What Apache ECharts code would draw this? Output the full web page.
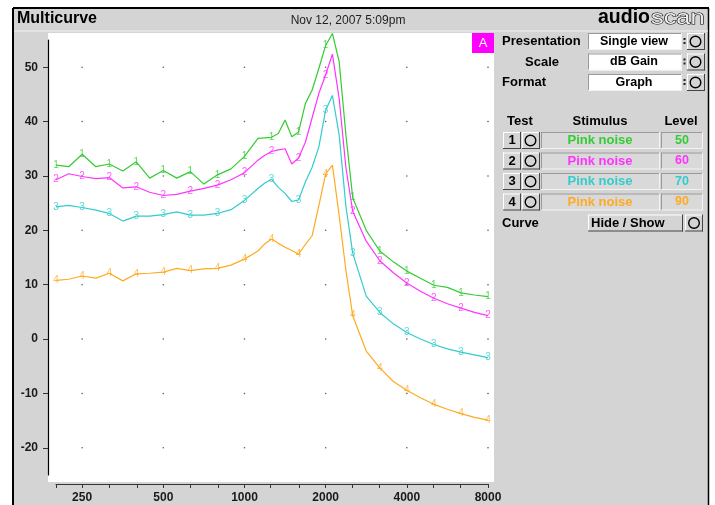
<!DOCTYPE html>
<html><head><meta charset="utf-8">
<script src="https://cdn.jsdelivr.net/npm/echarts@6/dist/echarts.min.js"></script>
<style>html,body{margin:0;padding:0;background:#fff}#c{width:715px;height:505px}</style>
</head><body><div id="c"></div>
<script>
// ---- data (frequency in Hz, values in dB gain) ----
const freqs = [200, 223, 250, 281, 315, 354, 397, 445, 500, 561, 630, 707, 794, 891, 1000,
  1122, 1189, 1260, 1335, 1414, 1498, 1587, 1682, 1782, 1888, 2000, 2119, 2245, 2378, 2520,
  2828, 3175, 3564, 4000, 4490, 5040, 5657, 6350, 7127, 8000];
const test1 = [32.0, 31.7, 34.0, 31.7, 32.2, 30.9, 32.6, 29.6, 31.0, 29.6, 30.8, 28.5, 30.2, 31.3, 33.6,
  36.9, 37.0, 37.1, 37.8, 40.3, 37.2, 38.1, 43.3, 45.8, 49.8, 54.0, 56.2, 51.0, 37.5, 26.0,
  20.0, 16.2, 14.2, 12.5, 11.2, 9.9, 9.5, 8.5, 8.1, 7.8];
const test2 = [29.3, 30.4, 29.9, 29.5, 29.7, 27.8, 28.0, 27.0, 26.4, 26.6, 27.2, 27.7, 28.3, 29.3, 30.6,
  32.9, 33.8, 34.5, 34.8, 35.0, 32.2, 33.3, 36.2, 40.7, 45.2, 48.6, 52.4, 44.2, 31.5, 23.5,
  18.0, 14.4, 12.2, 10.3, 8.8, 7.5, 6.5, 5.7, 4.9, 4.3];
const test3 = [24.3, 24.6, 24.2, 23.7, 23.1, 21.7, 22.6, 22.6, 22.9, 23.4, 22.8, 22.8, 23.1, 23.8, 25.5,
  27.7, 28.7, 29.4, 27.9, 26.8, 25.3, 25.6, 28.9, 31.6, 35.4, 42.1, 44.8, 37.5, 24.4, 15.8,
  7.9, 4.9, 2.8, 1.2, 0.0, -1.0, -1.8, -2.4, -2.9, -3.4];
const test4 = [10.8, 11.0, 11.6, 11.2, 12.1, 10.7, 12.0, 12.1, 12.3, 13.0, 12.6, 12.9, 13.0, 13.6, 14.7,
  16.2, 17.5, 18.4, 17.6, 16.9, 16.3, 15.6, 17.4, 19.0, 24.6, 30.4, 32.0, 22.7, 12.6, 4.3,
  -2.2, -5.3, -7.8, -9.4, -10.8, -12.0, -12.9, -13.7, -14.4, -14.9];
const markerFreqs = [200, 250, 315, 397, 500, 630, 794, 1000, 1260, 1587, 2000, 2520, 3175, 4000, 5040, 6350, 8000];
const tickFreqs = [200, 250, 315, 400, 500, 630, 800, 1000, 1250, 1600, 2000, 2500, 3150, 4000, 5000, 6300, 8000];
const labelFreqs = [250, 500, 1000, 2000, 4000, 8000];
const yTicks = [-20, -10, 0, 10, 20, 30, 40, 50];
const testIds = ['1', '2', '3', '4'];
const stimuli = ['Pink noise', 'Pink noise', 'Pink noise', 'Pink noise'];
const levels = ['50', '60', '70', '90'];
const colors = ['#33cc33', '#ff33ff', '#33cccc', '#ffaa22'];
const allTests = [test1, test2, test3, test4];

const oct = f => Math.log2(f / 250);
const FONT = '"Liberation Sans", Arial, sans-serif';

const series = [];
// grid dots at major intersections
const dots = [];
labelFreqs.forEach(f => yTicks.forEach(v => dots.push([oct(f), v])));
series.push({ type: 'scatter', data: dots, symbolSize: 1.6, itemStyle: { color: '#333' }, silent: true, z: 1, clip: false });

allTests.forEach((vals, k) => {
  series.push({
    type: 'line', name: testIds[k], data: freqs.map((f, i) => [oct(f), vals[i]]),
    showSymbol: false, clip: false, smooth: false,
    lineStyle: { color: colors[k], width: 1.2 }, z: 3 + k, silent: true
  });
  series.push({
    type: 'scatter', data: markerFreqs.map(f => [oct(f), vals[freqs.indexOf(f)]]),
    symbolSize: 2, itemStyle: { color: 'transparent' }, clip: false, silent: true, z: 8,
    label: { show: true, position: 'inside', formatter: testIds[k], color: colors[k], fontSize: 10, fontFamily: FONT }
  });
});

// ---- panel graphics ----
const G = [];
function rect(x, y, w, h, fill, stroke, z) { G.push({ type: 'rect', z: z === undefined ? 10 : z, silent: true, shape: { x, y, width: w, height: h }, style: { fill, stroke: stroke || null, lineWidth: stroke ? 1 : 0 } }); }
function line(x1, y1, x2, y2, stroke, lw, z) { G.push({ type: 'line', z: z === undefined ? 11 : z, silent: true, shape: { x1, y1, x2, y2 }, style: { stroke, lineWidth: lw || 1 } }); }
function txt(x, y, s, opt) {
  opt = opt || {};
  G.push({ type: 'text', z: 12, silent: true, x, y, scaleX: opt.scaleX || 1,
    style: { text: s, fill: opt.fill || '#000', stroke: opt.stroke || null, lineWidth: opt.lw || 0,
      font: (opt.weight || 'bold') + ' ' + (opt.size || 13) + 'px ' + FONT,
      textAlign: opt.align || 'left', align: opt.align || 'left', textVerticalAlign: 'middle', verticalAlign: 'middle' } });
}
function circle(cx, cy, r) { G.push({ type: 'circle', z: 12, silent: true, shape: { cx, cy, r }, style: { fill: null, stroke: '#000', lineWidth: 1.4 } }); }
function raised(x, y, w, h) {
  rect(x, y, w, h, '#d4d4d4');
  line(x, y + 0.5, x + w, y + 0.5, '#ffffff'); line(x + 0.5, y, x + 0.5, y + h, '#ffffff');
  line(x, y + h - 0.5, x + w, y + h - 0.5, '#444'); line(x + w - 0.5, y, x + w - 0.5, y + h, '#444');
}
function sunken(x, y, w, h, fill) {
  rect(x, y, w, h, fill);
  line(x, y + 0.5, x + w, y + 0.5, '#9a9a9a'); line(x + 0.5, y, x + 0.5, y + h, '#9a9a9a');
  line(x, y + h - 0.5, x + w, y + h - 0.5, '#f2f2f2'); line(x + w - 0.5, y, x + w - 0.5, y + h, '#f2f2f2');
}

// frame & background
rect(14, 8, 694, 520, '#d4d4d4', null, -3);
line(13, 8, 13, 505, '#000', 2, -2); line(13, 8, 709, 8, '#000', 2, -2); line(708.5, 8, 708.5, 505, '#000', 1.5, -2);
line(14, 31, 708, 31, '#f2f2f2', 1, -2);
rect(48, 33, 446, 449, '#ffffff', null, -2);
// titles
txt(17, 19, 'Multicurve', { size: 16 });
txt(348, 21, 'Nov 12, 2007 5:09pm', { size: 12, weight: 'normal', align: 'center', fill: '#222' });
txt(598, 18, 'audio', { size: 19.5 });
txt(651, 19, 'scan', { size: 19.5, weight: 'normal', fill: '#eeeeee', stroke: '#000', lw: 1, scaleX: 1.3 });
// A badge
rect(472, 33, 22, 20, '#ff00ff');
txt(483, 43.5, 'A', { size: 13, weight: 'normal', fill: '#fff', align: 'center' });

// top controls
const ctrl = [['Presentation', 'Single view', 41.5, 'left'], ['Scale', 'dB Gain', 62, 'center'], ['Format', 'Graph', 82.5, 'left']];
ctrl.forEach(([lab, val, cy, al]) => {
  if (al === 'center') txt(542, cy, lab, { align: 'center' }); else txt(502, cy, lab);
  sunken(588, cy - 8.5, 94, 17, '#ffffff');
  txt(634, cy, val, { align: 'center', size: 12.5 });
  rect(683.5, cy - 3.5, 2, 2, '#222'); rect(683.5, cy + 0.5, 2, 2, '#222');
  raised(687, cy - 8.5, 18, 17);
  circle(695.5, cy, 5.3);
});

// test table
txt(520, 121, 'Test', { align: 'center' });
txt(600, 121, 'Stimulus', { align: 'center' });
txt(681, 121, 'Level', { align: 'center' });
const rowY = [140.5, 161, 181.5, 202];
testIds.forEach((id, k) => {
  const cy = rowY[k];
  raised(503, cy - 8.5, 18, 17);
  txt(512, cy, id, { align: 'center' });
  raised(522, cy - 8.5, 18, 17);
  circle(530.5, cy, 5.3);
  sunken(541, cy - 8.5, 119, 17, '#d9d9d9');
  txt(600, cy, stimuli[k], { align: 'center', fill: colors[k] });
  sunken(661, cy - 8.5, 42, 17, '#d9d9d9');
  txt(682, cy, levels[k], { align: 'center', fill: colors[k], size: 12.5 });
});
txt(502, 223, 'Curve');
raised(588, 214.5, 95, 17);
txt(591, 223, 'Hide / Show');
raised(685, 214.5, 18, 17);
circle(694, 223, 5.3);

const axisText = { color: '#1a1a1a', fontSize: 12, fontWeight: 'bold', fontFamily: FONT };
const option = {
  animation: false,
  backgroundColor: '#ffffff',
  grid: { left: 56, top: 40, width: 432, height: 435, containLabel: false },
  xAxis: {
    type: 'value', min: oct(200), max: 5, offset: 9, position: 'bottom',
    axisLine: { show: true, onZero: false, lineStyle: { color: '#333', width: 1 } },
    axisTick: { show: true, customValues: tickFreqs.map(oct), length: 4, lineStyle: { color: '#333' } },
    axisLabel: Object.assign({ customValues: labelFreqs.map(oct), margin: 8,
      formatter: v => String(Math.round(250 * Math.pow(2, v))) }, axisText),
    splitLine: { show: false }
  },
  yAxis: {
    type: 'value', min: -25, max: 55, offset: 8, position: 'left',
    axisLine: { show: true, onZero: false, lineStyle: { color: '#000', width: 1.2 } },
    axisTick: { show: true, customValues: yTicks, length: 5, lineStyle: { color: '#333' } },
    axisLabel: Object.assign({ customValues: yTicks, margin: 10 }, axisText),
    splitLine: { show: false }
  },
  graphic: { elements: G },
  series
};
const chart = echarts.init(document.getElementById('c'), null, { renderer: 'canvas' });
chart.setOption(option);
</script></body></html>
